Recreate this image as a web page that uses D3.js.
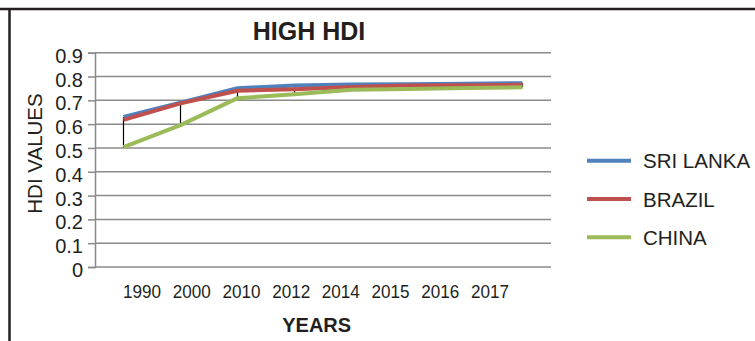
<!DOCTYPE html>
<html>
<head>
<meta charset="utf-8">
<script src="https://cdn.jsdelivr.net/npm/d3@7"></script>
<style>
  html, body { margin: 0; padding: 0; background: #fff; }
  svg { display: block; }
  text { font-family: "Liberation Sans", Arial, sans-serif; fill: #231f20; }
</style>
</head>
<body>
<svg id="chart" width="755" height="341"></svg>
<script>
// HDI values per country, one entry per year
const years = ["1990", "2000", "2010", "2012", "2014", "2015", "2016", "2017"];
const sriLanka = [0.630, 0.690, 0.751, 0.762, 0.766, 0.768, 0.770, 0.772];
const brazil   = [0.618, 0.687, 0.740, 0.747, 0.756, 0.762, 0.763, 0.765];
const china    = [0.503, 0.596, 0.709, 0.725, 0.744, 0.748, 0.752, 0.755];
const seriesNames = ["SRI LANKA", "BRAZIL", "CHINA"];
const seriesColors = ["#4f81bd", "#c0504d", "#9bbb59"];
const yTicks = [0, 0.1, 0.2, 0.3, 0.4, 0.5, 0.6, 0.7, 0.8, 0.9];

const series = [sriLanka, brazil, china].map((vals, i) => ({
  name: seriesNames[i], color: seriesColors[i], values: vals
}));

const svg = d3.select("#chart");
const plot = { left: 95, right: 551, top: 52.7, bottom: 267 };

const x = d3.scaleBand().domain(years).range([plot.left, plot.right]);
const xc = d => x(d) + x.bandwidth() / 2;
const y = d3.scaleLinear().domain([0, 0.9]).range([plot.bottom, plot.top]);
// category captions sit on their own row beneath the plot
const xLabel = d3.scalePoint().domain(years).range([142, 490]);

// frame
svg.append("line").attr("x1", 0).attr("x2", 755).attr("y1", 9).attr("y2", 9)
  .attr("stroke", "#231f20").attr("stroke-width", 2.5);
svg.append("line").attr("x1", 9.5).attr("x2", 9.5).attr("y1", 8).attr("y2", 341)
  .attr("stroke", "#231f20").attr("stroke-width", 2.5);

// horizontal gridlines
svg.append("g").selectAll("line").data(yTicks).join("line")
  .attr("x1", plot.left).attr("x2", plot.right)
  .attr("y1", d => y(d)).attr("y2", d => y(d))
  .attr("stroke", "#8a8a8a").attr("stroke-width", 1.5);

// y axis
const yAxis = svg.append("g").attr("transform", `translate(${plot.left},0)`)
  .call(d3.axisLeft(y).tickValues(yTicks).tickSize(7).tickPadding(5)
    .tickFormat(d => d === 0 ? "0" : d3.format(".1f")(d)));
yAxis.select(".domain").attr("stroke", "#8a8a8a").attr("stroke-width", 1.5);
yAxis.selectAll(".tick line").attr("stroke", "#8a8a8a").attr("stroke-width", 1.5);
yAxis.selectAll(".tick text")
  .attr("font-family", "Liberation Sans, Arial, sans-serif")
  .attr("font-size", 20).attr("fill", "#231f20").attr("dy", "0.48em");

// year captions
const xAxis = svg.append("g").attr("transform", "translate(0,284)")
  .call(d3.axisBottom(xLabel).tickSize(0).tickPadding(0));
xAxis.select(".domain").remove();
xAxis.selectAll(".tick text")
  .attr("font-family", "Liberation Sans, Arial, sans-serif")
  .attr("font-size", 19).attr("fill", "#231f20")
  .attr("dy", "0.72em")
  .attr("transform", "scale(0.9,1)");
xAxis.selectAll(".tick").attr("transform", d => `translate(${xLabel(d)},0)`);

// high-low lines between the highest and lowest value in each year
svg.append("g").selectAll("line").data(years).join("line")
  .attr("x1", d => xc(d)).attr("x2", d => xc(d))
  .attr("y1", (d, i) => y(d3.max(series, s => s.values[i])))
  .attr("y2", (d, i) => y(d3.min(series, s => s.values[i])))
  .attr("stroke", "#000").attr("stroke-width", 1.2);

// series lines
const line = d3.line().x((d, i) => xc(years[i])).y(d => y(d));
svg.append("g").selectAll("path").data(series).join("path")
  .attr("d", s => line(s.values))
  .attr("fill", "none").attr("stroke", s => s.color)
  .attr("stroke-width", 4).attr("stroke-linejoin", "round");

// titles
svg.append("text").attr("x", 309).attr("y", 40).attr("text-anchor", "middle")
  .attr("font-size", 25).attr("font-weight", "bold").text("HIGH HDI");
svg.append("text").attr("x", 316.7).attr("y", 332).attr("text-anchor", "middle")
  .attr("font-size", 20).attr("font-weight", "bold").text("YEARS");
svg.append("text").attr("transform", "translate(41.5,153.5) rotate(-90)")
  .attr("text-anchor", "middle").attr("font-size", 20.5).text("HDI VALUES");

// legend
const legend = svg.append("g").selectAll("g").data(series).join("g")
  .attr("transform", (d, i) => `translate(587,${160.7 + i * 38.3})`);
legend.append("line").attr("x1", 0).attr("x2", 44)
  .attr("stroke", d => d.color).attr("stroke-width", 4);
legend.append("text").attr("x", 56).attr("y", 7.5)
  .attr("font-size", 20.5).text(d => d.name);
</script>
</body>
</html>
